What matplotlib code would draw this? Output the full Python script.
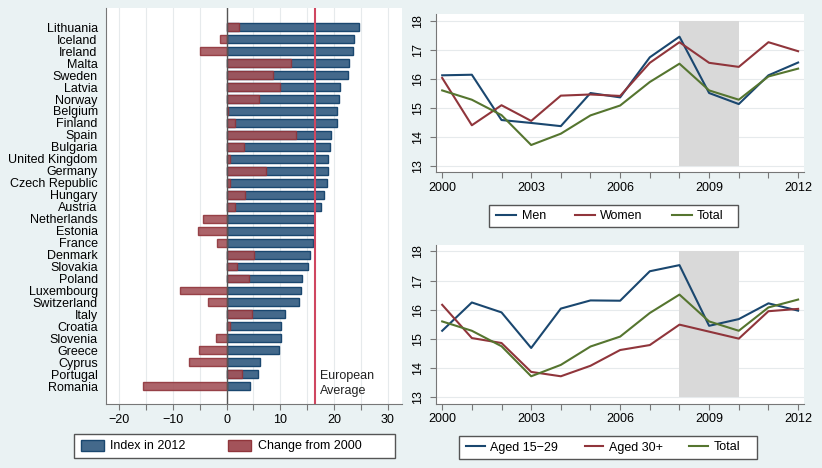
import matplotlib.pyplot as plt
import numpy as np
from matplotlib.patches import Patch, Rectangle
from matplotlib.lines import Line2D

plt.rcParams['font.family'] = ['Liberation Sans', 'DejaVu Sans']
plt.rcParams['font.size'] = 9

# left panel: country index and change
countries = ["Lithuania", "Iceland", "Ireland", "Malta", "Sweden", "Latvia", "Norway",
             "Belgium", "Finland", "Spain", "Bulgaria", "United Kingdom", "Germany",
             "Czech Republic", "Hungary", "Austria", "Netherlands", "Estonia", "France",
             "Denmark", "Slovakia", "Poland", "Luxembourg", "Switzerland", "Italy",
             "Croatia", "Slovenia", "Greece", "Cyprus", "Portugal", "Romania"]
index_2012 = [24.6, 23.7, 23.5, 22.7, 22.5, 21.0, 20.9, 20.6, 20.5, 19.4, 19.3, 18.9, 18.9,
              18.6, 18.1, 17.5, 16.3, 16.2, 16.0, 15.5, 15.1, 14.1, 13.9, 13.4, 10.9,
              10.2, 10.2, 9.7, 6.2, 5.9, 4.3]
change_2000 = [2.4, -1.3, -4.9, 12.0, 8.7, 10.0, 6.0, 0.3, 1.6, 12.9, 3.3, 0.6, 7.4,
               0.7, 3.4, 1.6, -4.3, -5.4, -1.7, 5.1, 2.0, 4.2, -8.7, -3.5, 4.8,
               0.6, -2.0, -5.1, -7.0, 2.8, -15.5]
eu_average = 16.4

# right panels: time series
years = list(range(2000, 2013))
men = [16.12, 16.14, 14.58, 14.48, 14.37, 15.51, 15.36, 16.74, 17.45, 15.51, 15.13, 16.12, 16.56]
women = [16.03, 14.40, 15.09, 14.55, 15.42, 15.46, 15.41, 16.55, 17.26, 16.55, 16.41, 17.26, 16.95]
total = [15.60, 15.28, 14.75, 13.72, 14.11, 14.74, 15.08, 15.89, 16.52, 15.60, 15.28, 16.08, 16.35]
aged_15_29 = [15.28, 16.25, 15.91, 14.69, 16.04, 16.32, 16.31, 17.32, 17.53, 15.45, 15.68, 16.22, 15.97]
aged_30 = [16.17, 15.03, 14.86, 13.87, 13.72, 14.08, 14.62, 14.79, 15.49, 15.25, 15.01, 15.95, 16.03]
recession = (2008, 2010)

bg = '#eaf2f3'
navy = '#1a476f'
maroon = '#90353b'
green = '#55752f'
bar_blue = '#44698b'
bar_red = '#a3535a'
axis_col = '#777777'
grid_col = '#e6eaec'

W, H = 822, 468
fig = plt.figure(figsize=(8.22, 4.68), dpi=100, facecolor=bg)


def legend_box(x0, x1, y0, y1, handles, labels, ncol, **kw):
    # stata style legend: white box with a gray frame, entries from the left
    fig.add_artist(Rectangle((x0 / W, 1 - y1 / H), (x1 - x0) / W, (y1 - y0) / H,
                             transform=fig.transFigure, facecolor='white',
                             edgecolor='#555555', lw=1, zorder=1))
    fig.legend(handles, labels, loc='center left', ncol=ncol,
               bbox_to_anchor=((x0 + 7) / W, 1 - (y0 + y1) / 2 / H), frameon=False,
               fontsize=9, borderpad=0, borderaxespad=0, **kw)


# ---- left: bars ----
ax = fig.add_axes([0.129, 0.137, 0.360, 0.846])
ax.set_facecolor('white')
y = np.arange(len(countries))
ax.barh(y, index_2012, height=0.66, color=bar_blue, edgecolor=navy, linewidth=1, zorder=2)
ax.barh(y, change_2000, height=0.66, color=bar_red, edgecolor=maroon, linewidth=1,
        alpha=0.9, zorder=3)
ax.axvline(0, color='#555555', lw=1, zorder=4)
ax.axvline(eu_average, color='#cf4760', lw=1.5, zorder=4)
ax.text(eu_average + 0.9, len(countries) - 1.2, "European\nAverage", ha='left', va='center',
        fontsize=9, color='#222222', linespacing=1.3)
ax.set_xlim(-22.4, 32.6)
ax.set_ylim(len(countries) - 1 + 1.48, -1.61)
ax.set_yticks(y)
ax.set_yticklabels(countries)
ax.tick_params(axis='y', length=0, pad=6, labelsize=9)
ax.set_xticks(np.arange(-20, 31, 5))
ax.set_xticklabels([str(v).replace('-', '\u2212') if v % 10 == 0 else '' for v in range(-20, 31, 5)])
ax.tick_params(axis='x', direction='out', length=4, color=axis_col, labelsize=9, pad=3)
ax.grid(axis='x', color=grid_col, lw=0.8, zorder=0)
ax.set_axisbelow(True)
for s in ['top', 'right']:
    ax.spines[s].set_visible(False)
for s in ['left', 'bottom']:
    ax.spines[s].set_color(axis_col)

legend_box(74, 395, 434, 458,
           [Patch(facecolor=bar_blue, edgecolor=navy), Patch(facecolor=bar_red, edgecolor=maroon)],
           ['Index in 2012', 'Change from 2000'], 2,
           handlelength=1.85, handleheight=1.0, handletextpad=0.5, columnspacing=3.4)


def line_panel(rect, series, labels, colors, box, hl, cs):
    a = fig.add_axes(rect)
    a.set_facecolor('white')
    a.axvspan(recession[0], recession[1], ymin=(13 - 12.78) / (18.22 - 12.78),
              ymax=(18 - 12.78) / (18.22 - 12.78), color='#d9d9d9', lw=0, zorder=1)
    for s, c in zip(series, colors):
        a.plot(years, s, color=c, lw=1.5, zorder=3)
    a.set_xlim(1999.78, 2012.21)
    a.set_ylim(12.78, 18.22)
    a.set_xticks(years)
    a.set_xticklabels([str(v) if (v - 2000) % 3 == 0 else '' for v in years])
    a.set_yticks(range(13, 19))
    for t in a.get_yticklabels():
        t.set_rotation(90)
        t.set_va('center')
    a.tick_params(direction='out', length=4, color=axis_col, labelsize=9, pad=3)
    a.tick_params(axis='y', pad=4)
    a.grid(axis='y', color=grid_col, lw=0.8, zorder=0)
    a.set_axisbelow(True)
    for sp in ['top', 'right']:
        a.spines[sp].set_visible(False)
    for sp in ['left', 'bottom']:
        a.spines[sp].set_color(axis_col)
    handles = [Line2D([], [], color=c, lw=1.5) for c in colors]
    legend_box(*box, handles, labels, 3, handlelength=hl, handletextpad=0.45,
               columnspacing=cs)
    return a


line_panel([0.530, 0.6318, 0.4485, 0.3376], [men, women, total], ['Men', 'Women', 'Total'],
           [navy, maroon, green], (489, 738, 205, 227), 1.6, 2.3)
line_panel([0.530, 0.1374, 0.4485, 0.3391], [aged_15_29, aged_30, total],
           ['Aged 15\u221229', 'Aged 30+', 'Total'], [navy, maroon, green],
           (459, 757, 436, 459), 1.5, 2.1)

fig.savefig('out.png', dpi=100, facecolor=bg)
